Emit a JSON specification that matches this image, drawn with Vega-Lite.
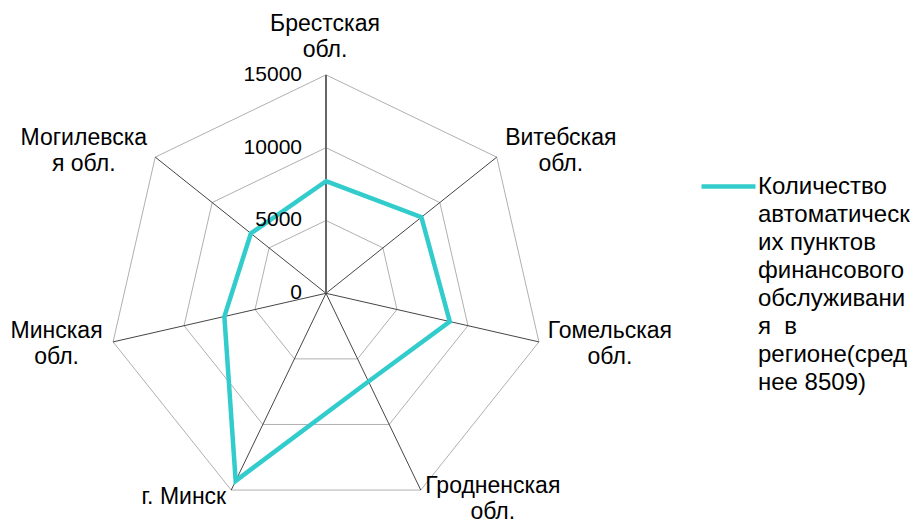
{
  "$schema": "https://vega.github.io/schema/vega-lite/v6.json",
  "width": 919,
  "height": 520,
  "autosize": {"type": "none"},
  "padding": 0,
  "background": "white",
  "config": {"view": {"stroke": null}, "font": "Liberation Sans"},
  "datasets": {
    "regions": [
      {"region": "Брестская обл.", "label": "Брестская\nобл.", "k": 0, "value": 7700, "series": "s"},
      {"region": "Витебская обл.", "label": "Витебская\nобл.", "k": 1, "value": 8380, "series": "s"},
      {"region": "Гомельская обл.", "label": "Гомельская\nобл.", "k": 2, "value": 8720, "series": "s"},
      {"region": "Гродненская обл.", "label": "Гродненская\nобл.", "k": 3, "value": 6720, "series": "s"},
      {"region": "г. Минск", "label": "г. Минск", "k": 4, "value": 14300, "series": "s"},
      {"region": "Минская обл.", "label": "Минская\nобл.", "k": 5, "value": 7160, "series": "s"},
      {"region": "Могилевская обл.", "label": "Могилевска\nя обл.", "k": 6, "value": 6600, "series": "s"}
    ],
    "grid": [
      {"level": 5000, "k": 0}, {"level": 5000, "k": 1}, {"level": 5000, "k": 2}, {"level": 5000, "k": 3}, {"level": 5000, "k": 4}, {"level": 5000, "k": 5}, {"level": 5000, "k": 6},
      {"level": 10000, "k": 0}, {"level": 10000, "k": 1}, {"level": 10000, "k": 2}, {"level": 10000, "k": 3}, {"level": 10000, "k": 4}, {"level": 10000, "k": 5}, {"level": 10000, "k": 6},
      {"level": 15000, "k": 0}, {"level": 15000, "k": 1}, {"level": 15000, "k": 2}, {"level": 15000, "k": 3}, {"level": 15000, "k": 4}, {"level": 15000, "k": 5}, {"level": 15000, "k": 6}
    ],
    "ticks": [{"v": 0}, {"v": 5000}, {"v": 10000}, {"v": 15000}]
  },
  "layer": [
    {
      "data": {"name": "grid"},
      "transform": [
        {"calculate": "datum.level * sin(2 * PI * datum.k / 7)", "as": "gx"},
        {"calculate": "datum.level * cos(2 * PI * datum.k / 7)", "as": "gy"}
      ],
      "mark": {"type": "line", "interpolate": "linear-closed", "stroke": "#b0b0b0", "strokeWidth": 1},
      "encoding": {
        "x": {"field": "gx", "type": "quantitative", "scale": {"domain": [-22390, 40727], "nice": false, "zero": false}, "axis": null},
        "y": {"field": "gy", "type": "quantitative", "scale": {"domain": [-15570, 20144], "nice": false, "zero": false}, "axis": null},
        "detail": {"field": "level", "type": "nominal"},
        "order": {"field": "k", "type": "quantitative"}
      }
    },
    {
      "data": {"name": "regions"},
      "transform": [
        {"filter": "datum.k != 0"},
        {"calculate": "15000 * sin(2 * PI * datum.k / 7)", "as": "sx"},
        {"calculate": "15000 * cos(2 * PI * datum.k / 7)", "as": "sy"},
        {"calculate": "0", "as": "c0"}
      ],
      "mark": {"type": "rule", "stroke": "#303030", "strokeWidth": 0.9},
      "encoding": {
        "x": {"field": "c0", "type": "quantitative", "scale": {"domain": [-22390, 40727], "nice": false, "zero": false}, "axis": null},
        "y": {"field": "c0", "type": "quantitative", "scale": {"domain": [-15570, 20144], "nice": false, "zero": false}, "axis": null},
        "x2": {"field": "sx"},
        "y2": {"field": "sy"}
      }
    },
    {
      "data": {"name": "regions"},
      "transform": [
        {"filter": "datum.k == 0"},
        {"calculate": "15000 * sin(2 * PI * datum.k / 7)", "as": "sx"},
        {"calculate": "15000 * cos(2 * PI * datum.k / 7)", "as": "sy"},
        {"calculate": "0", "as": "c0"}
      ],
      "mark": {"type": "rule", "stroke": "#666666", "strokeWidth": 2},
      "encoding": {
        "x": {"field": "c0", "type": "quantitative", "scale": {"domain": [-22390, 40727], "nice": false, "zero": false}, "axis": null},
        "y": {"field": "c0", "type": "quantitative", "scale": {"domain": [-15570, 20144], "nice": false, "zero": false}, "axis": null},
        "x2": {"field": "sx"},
        "y2": {"field": "sy"}
      }
    },
    {
      "data": {"name": "regions"},
      "transform": [
        {"calculate": "datum.value * sin(2 * PI * datum.k / 7)", "as": "px"},
        {"calculate": "datum.value * cos(2 * PI * datum.k / 7)", "as": "py"}
      ],
      "mark": {"type": "line", "interpolate": "linear-closed", "strokeWidth": 4.5, "strokeJoin": "miter"},
      "encoding": {
        "x": {"field": "px", "type": "quantitative", "scale": {"domain": [-22390, 40727], "nice": false, "zero": false}, "axis": null},
        "y": {"field": "py", "type": "quantitative", "scale": {"domain": [-15570, 20144], "nice": false, "zero": false}, "axis": null},
        "order": {"field": "k", "type": "quantitative"},
        "color": {
          "field": "series",
          "type": "nominal",
          "scale": {"range": ["#33CCCC"]},
          "legend": {
            "orient": "none",
            "legendX": 699,
            "legendY": 157,
            "title": null,
            "padding": 0,
            "symbolType": "stroke",
            "symbolSize": 2916,
            "symbolStrokeWidth": 4.5,
            "labelFont": "Liberation Sans",
            "labelFontSize": 24,
            "labelColor": "black",
            "labelBaseline": "middle",
            "labelOffset": 0,
            "labelLimit": 400,
            "labelExpr": "['Количество', 'автоматическ', 'их пунктов', 'финансового', 'обслуживани', 'я\u00a0\u00a0в', 'регионе(сред', 'нее 8509)']",
            "encode": {"labels": {"update": {"lineHeight": {"value": 28}}}}
          }
        }
      }
    },
    {
      "data": {"name": "ticks"},
      "transform": [{"calculate": "0", "as": "c0"}],
      "mark": {"type": "text", "align": "right", "baseline": "middle", "dx": -24, "fontSize": 21, "font": "Liberation Sans", "color": "black"},
      "encoding": {
        "x": {"field": "c0", "type": "quantitative", "scale": {"domain": [-22390, 40727], "nice": false, "zero": false}, "axis": null},
        "y": {"field": "v", "type": "quantitative", "scale": {"domain": [-15570, 20144], "nice": false, "zero": false}, "axis": null},
        "text": {"field": "v", "type": "nominal"}
      }
    },
    {
      "data": {"name": "regions"},
      "transform": [
        {"calculate": "15000 * sin(2 * PI * datum.k / 7)", "as": "lx"},
        {"calculate": "15000 * cos(2 * PI * datum.k / 7)", "as": "ly"}
      ],
      "mark": {
        "type": "text",
        "align": "center",
        "baseline": "middle",
        "lineBreak": "\n",
        "lineHeight": 26,
        "fontSize": 23,
        "font": "Liberation Sans",
        "color": "black",
        "dx": {"expr": "[-1, 64, 71, 72, -47.4, -56.5, -71.5][datum.k]"},
        "dy": {"expr": "[-51, -19.5, -11, -3.7, 7.3, -11, -19.5][datum.k]"}
      },
      "encoding": {
        "x": {"field": "lx", "type": "quantitative", "scale": {"domain": [-22390, 40727], "nice": false, "zero": false}, "axis": null},
        "y": {"field": "ly", "type": "quantitative", "scale": {"domain": [-15570, 20144], "nice": false, "zero": false}, "axis": null},
        "text": {"field": "label", "type": "nominal"}
      }
    }
  ]
}
